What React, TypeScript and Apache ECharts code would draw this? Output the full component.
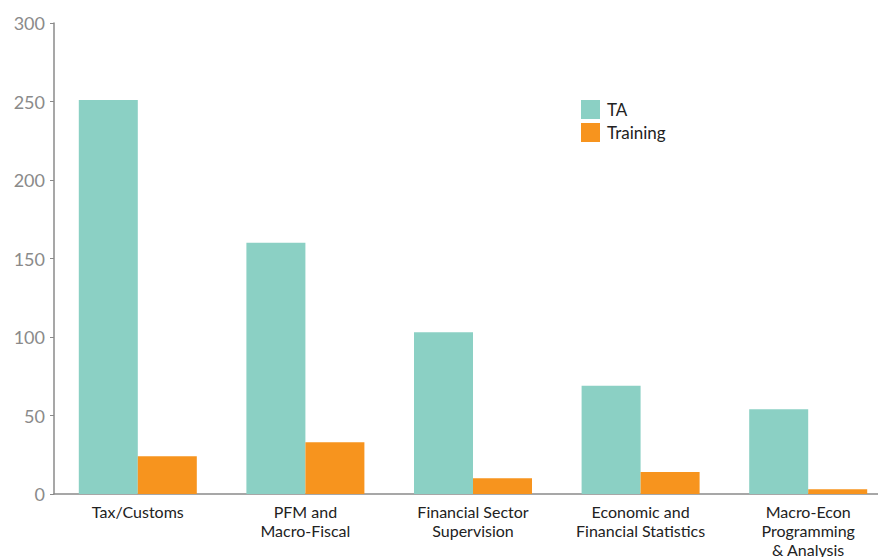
import React, { useEffect, useRef } from "react";
import * as echarts from "echarts";

const categories = [
  "Tax/Customs",
  "PFM and\nMacro-Fiscal",
  "Financial Sector\nSupervision",
  "Economic and\nFinancial Statistics",
  "Macro-Econ\nProgramming\n& Analysis",
];
const taValues = [251, 160, 103, 69, 54];
const trainingValues = [24, 33, 10, 14, 3];
const yTicks = [0, 50, 100, 150, 200, 250, 300];

export default function App() {
  const ref = useRef<HTMLDivElement>(null);
  useEffect(() => {
    if (!ref.current) return;
    const chart = echarts.init(ref.current, undefined, { renderer: "svg" });
    chart.setOption({
      animation: false,
      legend: {
        orient: "vertical",
        left: 576,
        top: 95,
        padding: 5,
        itemWidth: 19,
        itemHeight: 19,
        itemGap: 4,
        icon: "rect",
        textStyle: { fontFamily: "Lato", fontSize: 17, color: "#222", lineHeight: 19, padding: [0, 0, 0, 2] },
        data: ["TA", "Training"],
      },
      grid: {
        left: 54,
        right: -14,
        top: 23,
        bottom: 63,
        containLabel: false,
        outerBoundsMode: "none",
      },
      xAxis: {
        type: "category",
        data: categories,
        axisLine: { lineStyle: { color: "#8a8a8a", width: 1.5 } },
        axisTick: { show: false },
        axisLabel: {
          fontFamily: "Lato",
          fontSize: 16,
          color: "#222",
          lineHeight: 19,
          margin: 8,
          interval: 0,
        },
      },
      yAxis: {
        type: "value",
        min: yTicks[0],
        max: yTicks[yTicks.length - 1],
        interval: 50,
        splitLine: { show: false },
        axisLine: { show: true, lineStyle: { color: "#8a8a8a", width: 1.5 } },
        axisTick: { show: true, length: 4, lineStyle: { color: "#8a8a8a" } },
        axisLabel: { fontFamily: "Lato", fontSize: 18, color: "#8a8a8a", margin: 9 },
      },
      series: [
        {
          name: "TA",
          type: "bar",
          data: taValues,
          barWidth: 59,
          barGap: "0%",
          itemStyle: { color: "#8BD0C4" },
        },
        {
          name: "Training",
          type: "bar",
          data: trainingValues,
          barWidth: 59,
          barGap: "0%",
          itemStyle: { color: "#F7941E" },
        },
      ],
    });
    return () => chart.dispose();
  }, []);
  return (
    <div
      ref={ref}
      style={{ position: "absolute", left: 0, top: 0, width: 878, height: 557 }}
    />
  );
}
